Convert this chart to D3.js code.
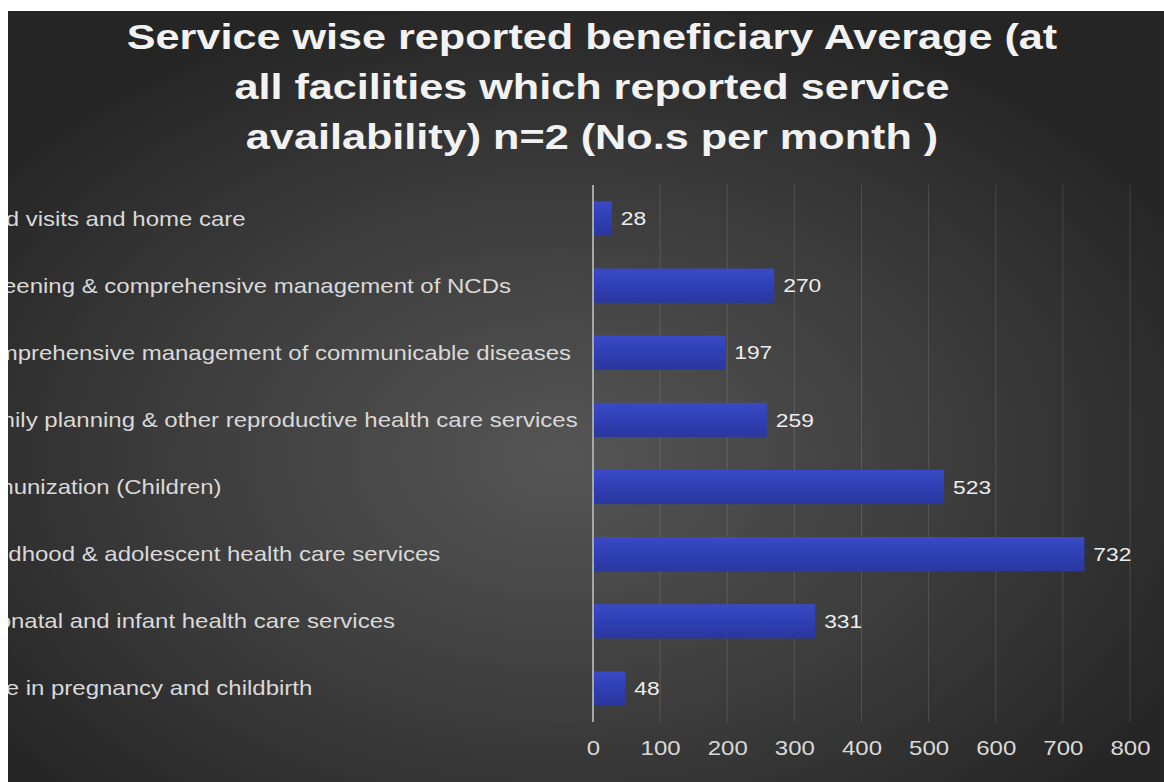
<!DOCTYPE html>
<html>
<head>
<meta charset="utf-8">
<script src="https://cdn.jsdelivr.net/npm/d3@7"></script>
<style>
  html, body { margin: 0; padding: 0; background: #fff; }
  svg { display: block; }
</style>
</head>
<body>
<div id="chart"></div>
<script>
// categories, top to bottom as drawn
let categories = [
    "Field visits and home care",
    "Screening & comprehensive management of NCDs",
    "Comprehensive management of communicable diseases",
    "Family planning & other reproductive health care services",
    "Immunization (Children)",
    "Childhood & adolescent health care services",
    "Neonatal and infant health care services",
    "Care in pregnancy and childbirth"
];
let values = [28, 270, 197, 259, 523, 732, 331, 48];
let tickValues = [0, 100, 200, 300, 400, 500, 600, 700, 800];
let titleLines = [
    "Service wise reported beneficiary Average (at",
    "all facilities which reported service",
    "availability) n=2 (No.s per month )"
];

let width = 1164, height = 782;
let frame = {left: 8, top: 11};
let plot = {left: 593, right: 1130, top: 185, bottom: 722};
let labelX = -33;
let stretch = 1.2; // the picture is a bit wider than tall

let svg = d3.select("#chart").append("svg").attr("width", width).attr("height", height);
let defs = svg.append("defs");

let bg = defs.append("radialGradient").attr("id", "bgGrad")
    .attr("cx", "48%").attr("cy", "58%").attr("r", "62%");
bg.append("stop").attr("offset", "0%").attr("stop-color", "#555555");
bg.append("stop").attr("offset", "55%").attr("stop-color", "#3c3c3c");
bg.append("stop").attr("offset", "100%").attr("stop-color", "#252525");

let barGrad = defs.append("linearGradient").attr("id", "barGrad")
    .attr("x1", 0).attr("y1", 0).attr("x2", 0).attr("y2", 1);
barGrad.append("stop").attr("offset", "0%").attr("stop-color", "#3a4ac6");
barGrad.append("stop").attr("offset", "50%").attr("stop-color", "#2f3fb4");
barGrad.append("stop").attr("offset", "100%").attr("stop-color", "#2a379f");

defs.append("clipPath").attr("id", "frameClip")
    .append("rect").attr("x", frame.left).attr("y", frame.top)
    .attr("width", width - frame.left).attr("height", height - frame.top);

let g = svg.append("g").attr("clip-path", "url(#frameClip)");
g.append("rect").attr("x", frame.left).attr("y", frame.top)
    .attr("width", width - frame.left).attr("height", height - frame.top)
    .attr("fill", "url(#bgGrad)");

// title
g.append("g").selectAll("text").data(titleLines).join("text")
    .attr("transform", (d, i) => "translate(592," + (49 + i * 50) + ") scale(" + stretch + ",1)")
    .attr("text-anchor", "middle")
    .attr("fill", "#f2f2f2")
    .attr("style", "font: bold 36px 'Liberation Sans', Arial, sans-serif")
    .text(d => d);

let x = d3.scaleLinear().domain([0, 800]).range([plot.left, plot.right]);
let y = d3.scaleBand().domain(categories).range([plot.top, plot.bottom])
    .paddingInner(0.49).paddingOuter(0.245);

// gridlines
g.append("g").selectAll("line").data(tickValues.slice(1)).join("line")
    .attr("x1", d => x(d)).attr("x2", d => x(d))
    .attr("y1", plot.top).attr("y2", plot.bottom)
    .attr("stroke", "#ffffff").attr("stroke-opacity", 0.13).attr("stroke-width", 1);

// x axis tick labels
let xAxis = d3.axisBottom(x).tickValues(tickValues).tickSize(0).tickPadding(0);
let xg = g.append("g").attr("transform", "translate(0," + (plot.bottom + 33) + ")").call(xAxis);
xg.select(".domain").remove();
xg.selectAll("text").attr("fill", "#d9d9d9").attr("dy", "0")
    .attr("transform", "scale(" + stretch + ",1)")
    .attr("style", "font: 20px 'Liberation Sans', Arial, sans-serif");

// bars
g.append("g").selectAll("rect").data(values).join("rect")
    .attr("x", x(0))
    .attr("y", (d, i) => y(categories[i]))
    .attr("width", d => x(d) - x(0))
    .attr("height", y.bandwidth())
    .attr("fill", "url(#barGrad)");

// value labels
g.append("g").selectAll("text").data(values).join("text")
    .attr("transform", (d, i) => "translate(" + (x(d) + 9) + "," + (y(categories[i]) + y.bandwidth() / 2) + ") scale(" + stretch + ",1)")
    .attr("dy", "0.35em")
    .attr("fill", "#ededed")
    .attr("style", "font: 19px 'Liberation Sans', Arial, sans-serif")
    .text(d => d);

// category labels (left aligned, partly outside the frame)
g.append("g").selectAll("text").data(categories).join("text")
    .attr("transform", d => "translate(" + labelX + "," + (y(d) + y.bandwidth() / 2) + ") scale(" + stretch + ",1)")
    .attr("dy", "0.35em")
    .attr("fill", "#d9d9d9")
    .attr("style", "font: 20px 'Liberation Sans', Arial, sans-serif")
    .text(d => d);

// vertical axis line
g.append("line")
    .attr("x1", x(0)).attr("x2", x(0))
    .attr("y1", plot.top).attr("y2", plot.bottom)
    .attr("stroke", "#a6a6a6").attr("stroke-width", 2);
</script>
</body>
</html>
